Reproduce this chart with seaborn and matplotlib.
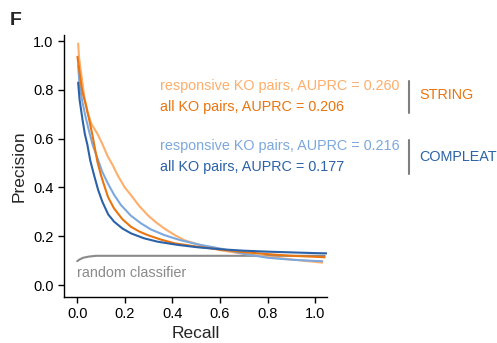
import numpy as np
import pandas as pd
import matplotlib
matplotlib.use('Agg')
import matplotlib.pyplot as plt
import seaborn as sns

# curvas precision-recall
rec_str_resp = [0.004, 0.008, 0.015, 0.03, 0.043, 0.06, 0.085, 0.105, 0.127, 0.15, 0.17, 0.2, 0.225,
                0.26, 0.296, 0.33, 0.366, 0.41, 0.45, 0.53, 0.6, 0.7, 0.8, 0.9, 1.0, 1.03]
prec_str_resp = [0.99, 0.93, 0.88, 0.77, 0.71, 0.66, 0.62, 0.58, 0.53, 0.49, 0.45, 0.40, 0.37,
                 0.325, 0.287, 0.258, 0.232, 0.205, 0.184, 0.16, 0.143, 0.128, 0.116, 0.105, 0.095, 0.092]

rec_str_all = [0.001, 0.01, 0.02, 0.036, 0.05, 0.064, 0.085, 0.1, 0.113, 0.13, 0.155, 0.19, 0.226,
               0.26, 0.296, 0.35, 0.41, 0.5, 0.6, 0.7, 0.8, 0.9, 1.0, 1.04]
prec_str_all = [0.936, 0.87, 0.80, 0.74, 0.68, 0.615, 0.505, 0.45, 0.41, 0.36, 0.314, 0.27, 0.239,
                0.22, 0.205, 0.187, 0.171, 0.158, 0.146, 0.135, 0.127, 0.12, 0.116, 0.114]

rec_comp_resp = [0.004, 0.01, 0.022, 0.035, 0.05, 0.065, 0.085, 0.105, 0.127, 0.155, 0.184, 0.225,
                 0.268, 0.31, 0.366, 0.43, 0.506, 0.6, 0.7, 0.8, 0.9, 1.0, 1.03]
prec_comp_resp = [0.90, 0.82, 0.75, 0.69, 0.63, 0.575, 0.52, 0.465, 0.42, 0.37, 0.328, 0.285,
                  0.253, 0.228, 0.205, 0.185, 0.167, 0.15, 0.128, 0.112, 0.104, 0.099, 0.098]

rec_comp_all = [0.004, 0.01, 0.022, 0.032, 0.043, 0.055, 0.071, 0.088, 0.106, 0.13, 0.155, 0.19,
                0.226, 0.28, 0.337, 0.42, 0.506, 0.6, 0.7, 0.8, 0.9, 1.0, 1.05]
prec_comp_all = [0.83, 0.76, 0.68, 0.62, 0.574, 0.51, 0.45, 0.39, 0.341, 0.29, 0.26, 0.232,
                 0.212, 0.192, 0.178, 0.165, 0.155, 0.147, 0.141, 0.137, 0.134, 0.131, 0.13]

rec_random = [0.0, 0.01, 0.025, 0.05, 0.08, 0.2, 0.5, 0.8, 1.04]
prec_random = [0.098, 0.105, 0.112, 0.117, 0.12, 0.12, 0.12, 0.12, 0.12]

etiquetas = ["responsive KO pairs, AUPRC = 0.260", "all KO pairs, AUPRC = 0.206",
             "responsive KO pairs, AUPRC = 0.216", "all KO pairs, AUPRC = 0.177"]
colores = ["#fdae6b", "#e8750f", "#7ca8dd", "#2b62a8"]
gris = "#8a8a8a"

curvas = [(rec_str_resp, prec_str_resp), (rec_str_all, prec_str_all),
          (rec_comp_resp, prec_comp_resp), (rec_comp_all, prec_comp_all),
          (rec_random, prec_random)]
nombres = etiquetas + ["random classifier"]

filas = []
for nombre, (r, p) in zip(nombres, curvas):
    for i in range(len(r)):
        filas.append({"curva": nombre, "Recall": r[i], "Precision": p[i]})
df = pd.DataFrame(filas)

sns.set_theme(style="ticks")
plt.rcParams['font.family'] = ['Liberation Sans', 'DejaVu Sans']

fig = plt.figure(figsize=(4.97, 3.43), dpi=100)
ax = fig.add_axes([0.129, 0.134, 0.529, 0.764])

paleta = dict(zip(nombres, colores + [gris]))
sns.lineplot(data=df, x="Recall", y="Precision", hue="curva", palette=paleta,
             hue_order=[nombres[4], nombres[0], nombres[2], nombres[1], nombres[3]],
             estimator=None, sort=False, linewidth=1.5, legend=False, ax=ax)

ax.set_xlim(-0.055, 1.05)
ax.set_ylim(-0.049, 1.025)
ax.set_xticks(np.arange(0, 1.01, 0.2))
ax.set_yticks(np.arange(0, 1.01, 0.2))
ax.set_xlabel("Recall", fontsize=12.5, labelpad=3)
ax.set_ylabel("Precision", fontsize=12.5, labelpad=5)
ax.tick_params(labelsize=10.5, length=4, width=1, colors="black")
for s in ["left", "bottom"]:
    ax.spines[s].set_linewidth(1)
    ax.spines[s].set_color("black")
sns.despine(ax=ax)

ax.text(0.0, 0.049, "random classifier", color=gris, fontsize=10.4, ha="left", va="center")

# leyenda manual
ys = [0.749, 0.688, 0.574, 0.513]
for y, txt, c in zip(ys, etiquetas, colores):
    fig.text(0.322, y, txt, color=c, fontsize=10.4, ha="left", va="center")

fig.add_artist(plt.Line2D([0.823, 0.823], [0.671, 0.764], color="#7f7f7f", lw=1.5))
fig.add_artist(plt.Line2D([0.823, 0.823], [0.493, 0.592], color="#7f7f7f", lw=1.5))
fig.text(0.843, 0.723, "STRING", color=colores[1], fontsize=10.4, ha="left", va="center")
fig.text(0.843, 0.542, "COMPLEAT", color=colores[3], fontsize=10.4, ha="left", va="center")

fig.text(0.02, 0.94, "F", fontsize=14, fontweight="bold", ha="left", va="center")

fig.savefig("out.png", dpi=100)
plt.close()
